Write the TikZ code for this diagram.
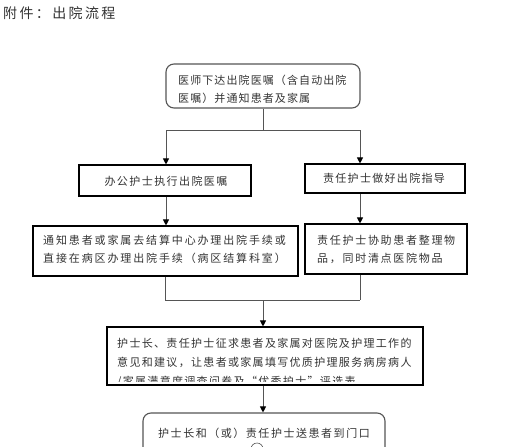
\documentclass[tikz,border=0pt]{standalone}
\usepackage{fontspec}
\usetikzlibrary{arrows.meta}
\newfontfamily\cjk{Noto Sans CJK SC}
\newcommand{\myls}[1]{\addfontfeature{LetterSpace=#1}}
\definecolor{txt}{HTML}{333333}
\definecolor{lin}{HTML}{555555}
\begin{document}
\begin{tikzpicture}[x=1pt,y=-1pt,
  box/.style={draw=black, line width=1.1pt, inner sep=0pt},
  rbox/.style={draw=lin, line width=1.1pt, inner sep=0pt, rounded corners=8pt},
  lbl/.style={inner sep=0pt, text=txt, align=left, font=\cjk\fontsize{11}{18}\selectfont},
  conn/.style={draw=lin, line width=0.9pt},
  arr/.style={conn, -{Triangle[width=6pt,length=6pt,color=black]}}]
\clip (0,0) rectangle (506,447);
\fill[white] (0,0) rectangle (506,447);

% title
\node[lbl, anchor=west, font=\cjk\fontsize{14}{16}\selectfont\myls{17}] (title) at (3,13) {附件：出院流程};

% boxes
\node[rbox, minimum width=194, minimum height=44] (b1) at (263,86) {};
\node[lbl, anchor=west, font=\cjk\fontsize{11}{18}\selectfont\myls{10}] (t1) at (178,89) {医师下达出院医嘱（含自动出院\\医嘱）并通知患者及家属};

\node[box, minimum width=172, minimum height=31] (b2) at (165,180.5) {};
\node[lbl, font=\cjk\fontsize{11}{18}\selectfont\myls{13}] (t2) at (166,181) {办公护士执行出院医嘱};

\node[box, minimum width=160, minimum height=29] (b3) at (385,178.5) {};
\node[lbl, font=\cjk\fontsize{11}{18}\selectfont\myls{12}] (t3) at (384,178) {责任护士做好出院指导};

\node[box, minimum width=265, minimum height=50] (b4) at (165.5,251) {};
\node[lbl, anchor=west, font=\cjk\fontsize{11}{18}\selectfont\myls{17}] (t4) at (43,249) {通知患者或家属去结算中心办理出院手续或\\直接在病区办理出院手续（病区结算科室）};

\node[box, minimum width=162, minimum height=50] (b5) at (386,249) {};
\node[lbl, anchor=west, font=\cjk\fontsize{11}{18}\selectfont\myls{15.5}] (t5) at (317,249) {责任护士协助患者整理物\\品，同时清点医院物品};

\node[box, minimum width=316, minimum height=58] (b6) at (265,356) {};
\begin{scope}
\clip (108,328) rectangle (422,381);
\node[lbl, anchor=north west, font=\cjk\fontsize{11}{19}\selectfont\myls{12}] (t6) at (117,338) {护士长、责任护士征求患者及家属对医院及护理工作的\\意见和建议，让患者或家属填写优质护理服务病房病人\\/家属满意度调查问卷及“优秀护士”评选表};
\end{scope}

\node[rbox, minimum width=242, minimum height=60] (b7) at (264,443) {};
\node[lbl, font=\cjk\fontsize{11}{18}\selectfont\myls{14}] (t7) at (264,433) {护士长和（或）责任护士送患者到门口};
\draw[lin, line width=0.6pt] (251,449) arc (180:360:6);

% connectors
\coordinate (j1) at (263,130);
\coordinate (j1L) at (166,130);
\coordinate (j1R) at (360,130);
\draw[conn] (b1.south -| j1) -- (j1);
\draw[conn] (j1L) -- (j1R);
\draw[arr] (j1L) -- (j1L |- b2.north);
\draw[arr] (j1R) -- (j1R |- b3.north);
\draw[arr] (j1L |- b2.south) -- (j1L |- b4.north);
\draw[arr] (j1R |- b3.south) -- (j1R |- b5.north);

\coordinate (j2) at (263,300);
\coordinate (j2L) at (165,300);
\coordinate (j2R) at (360,300);
\draw[conn] (j2L |- b4.south) -- (j2L);
\draw[conn] (j2R |- b5.south) -- (j2R);
\draw[conn] (j2L) -- (j2R);
\draw[arr] (j2) -- (j2 |- b6.north);
\draw[arr] (j2 |- b6.south) -- (j2 |- b7.north);
\end{tikzpicture}
\end{document}
